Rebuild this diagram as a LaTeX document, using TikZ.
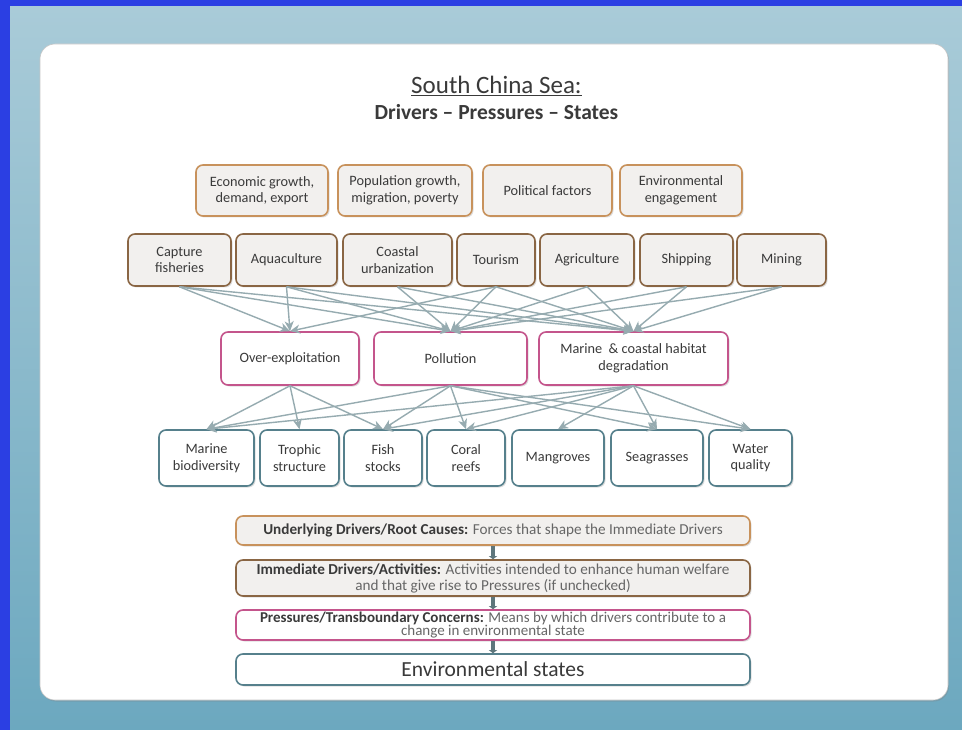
\documentclass[tikz,border=0pt]{standalone}
\usepackage{fontspec}
\setmainfont{Carlito}
\usetikzlibrary{arrows.meta,shadows}

\definecolor{bgblue}{HTML}{2B3FE3}
\definecolor{seatop}{HTML}{A9CBD8}
\definecolor{seabot}{HTML}{6CA8BF}
\definecolor{rootline}{HTML}{C8925C}
\definecolor{actline}{HTML}{8A6644}
\definecolor{boxfill}{HTML}{F2F0EE}
\definecolor{pressline}{HTML}{C4558C}
\definecolor{stateline}{HTML}{56808C}
\definecolor{flowgray}{HTML}{96ABB0}
\definecolor{txtdark}{HTML}{3A3A3A}
\definecolor{txtlight}{HTML}{666666}
\definecolor{legflowc}{HTML}{5E767C}

\begin{document}
\begin{tikzpicture}[x=1pt,y=-1pt,
  box/.style={rounded corners=7pt, line width=1.6pt, align=center, inner sep=1pt,
    text=txtdark, font=\fontsize{14.3}{16.5}\selectfont,
    drop shadow={shadow xshift=1.5pt,shadow yshift=-1.5pt,opacity=0.25}},
  rootbox/.style={box, draw=rootline, fill=boxfill, minimum height=51pt},
  actbox/.style={box, draw=actline, fill=boxfill, minimum height=52pt},
  pressbox/.style={box, draw=pressline, fill=white, minimum height=53pt},
  statebox/.style={box, draw=stateline, fill=white, minimum height=56pt},
  legbox/.style={box, minimum width=514pt, font=\fontsize{15.2}{16}\selectfont},
  flow/.style={draw=flowgray, line width=1.4pt, -{Stealth[length=10pt,width=9pt,inset=3pt]}},
  legflow/.style={draw=legflowc, line width=3.5pt, -{Triangle[length=3pt,width=8pt]}}
  ]
  \useasboundingbox (0,0) rectangle (962,730);

  % Background
  \fill[bgblue] (0,0) rectangle (962,730);
  \shade[top color=seatop, bottom color=seabot] (10,7) rectangle (962,730);

  % Panel
  \fill[white, draw=gray!45, line width=0.6pt, rounded corners=15pt,
    drop shadow={shadow xshift=1pt,shadow yshift=-1.5pt,opacity=0.3}] (40,44) rectangle (948,700);

  % Title
  \node[text=txtdark, font=\fontsize{25}{28}\selectfont] (title) at (496.5,86) {\underline{South China Sea:}};
  \node[text=txtdark, font=\bfseries\fontsize{21.5}{24}\selectfont] (subtitle) at (496.5,112) {Drivers -- Pressures -- States};

  % Underlying drivers
  \node[rootbox, minimum width=132pt] (econ) at (262,190.5) {Economic growth,\\demand, export};
  \node[rootbox, minimum width=134pt] (popu) at (405,190.5) {Population growth,\\migration, poverty};
  \node[rootbox, minimum width=129pt] (poli) at (547.5,190.5) {Political factors};
  \node[rootbox, minimum width=122pt] (envi) at (681,190.5) {Environmental\\engagement};

  % Immediate drivers
  \node[actbox, minimum width=103pt] (capt) at (179.5,260) {Capture\\fisheries};
  \node[actbox, minimum width=101pt] (aqua) at (286.5,260) {Aquaculture};
  \node[actbox, minimum width=109pt] (urba) at (397.5,260) {Coastal\\urbanization};
  \node[actbox, minimum width=78pt] (tour) at (496,260) {Tourism};
  \node[actbox, minimum width=94pt] (agri) at (587,260) {Agriculture};
  \node[actbox, minimum width=93pt] (ship) at (686.5,260) {Shipping};
  \node[actbox, minimum width=89pt] (mine) at (781.5,260) {Mining};

  % Pressures
  \node[pressbox, minimum width=138pt] (over) at (290,358.5) {Over-exploitation};
  \node[pressbox, minimum width=153pt] (poll) at (450.5,358.5) {Pollution};
  \node[pressbox, minimum width=189pt] (habi) at (633.5,358.5) {Marine \ \& coastal habitat\\degradation};

  % States
  \node[statebox, minimum width=95pt] (biod) at (206.5,458) {Marine\\biodiversity};
  \node[statebox, minimum width=79pt] (trop) at (299.5,458) {Trophic\\structure};
  \node[statebox, minimum width=78pt] (fish) at (383,458) {Fish\\stocks};
  \node[statebox, minimum width=78pt] (cora) at (466,458) {Coral\\reefs};
  \node[statebox, minimum width=92pt] (mang) at (558,458) {Mangroves};
  \node[statebox, minimum width=92pt] (seag) at (657,458) {Seagrasses};
  \node[statebox, minimum width=83pt] (wate) at (750.5,458) {Water\\quality};

  % Drivers to pressures
  \foreach \s/\t in {capt/over, capt/poll, capt/habi, aqua/over, aqua/poll, aqua/habi,
    urba/poll, urba/habi, tour/over, tour/poll, tour/habi, agri/poll, agri/habi,
    ship/poll, ship/habi, mine/poll, mine/habi}
    \draw[flow] (\s.south) -- (\t.north);

  % Pressures to states
  \foreach \s/\t in {over/biod, over/trop, over/fish, poll/biod, poll/fish, poll/cora,
    poll/seag, poll/wate, habi/biod, habi/fish, habi/cora, habi/mang, habi/seag, habi/wate}
    \draw[flow] (\s.south) -- (\t.north);

  % Legend
  \node[legbox, draw=rootline, fill=boxfill, minimum height=29pt] (legroot) at (493,530.5)
    {\textbf{Underlying Drivers/Root Causes:} \textcolor{txtlight}{Forces that shape the Immediate Drivers}};
  \node[legbox, draw=actline, fill=boxfill, minimum height=36pt] (legact) at (493,578)
    {\textbf{Immediate Drivers/Activities:} \textcolor{txtlight}{Activities intended to enhance human welfare}\\
     \textcolor{txtlight}{and that give rise to Pressures (if unchecked)}};
  \node[legbox, draw=pressline, fill=white, minimum height=30pt, font=\fontsize{15}{12.5}\selectfont] (legpress) at (493,625)
    {\textbf{Pressures/Transboundary Concerns:} \textcolor{txtlight}{Means by which drivers contribute to a}\\
     \textcolor{txtlight}{change in environmental state}};
  \node[legbox, draw=stateline, fill=white, minimum height=31pt, font=\fontsize{21.5}{24}\selectfont] (legstate) at (493,669.5)
    {Environmental states};

  \draw[legflow] (legroot.south) -- (legact.north);
  \draw[legflow] (legact.south) -- (legpress.north);
  \draw[legflow] (legpress.south) -- (legstate.north);

\end{tikzpicture}
\end{document}
